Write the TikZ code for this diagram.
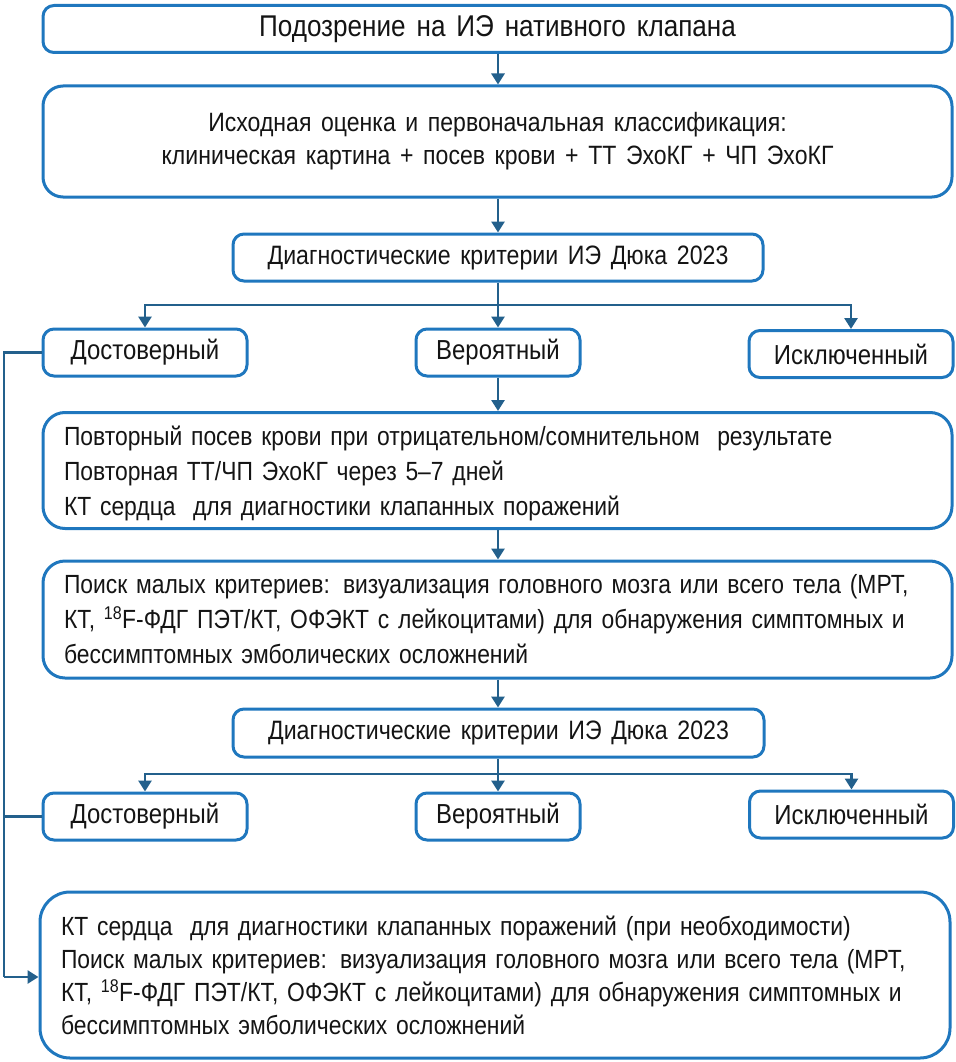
\documentclass[tikz,border=0pt]{standalone}
\usepackage{fontspec}
\setmainfont{Liberation Sans}[FakeStretch=0.87,WordSpace=1.5]
\usetikzlibrary{arrows.meta}
\definecolor{boxblue}{RGB}{31,119,190}
\definecolor{linkblue}{RGB}{35,96,140}
\definecolor{txt}{RGB}{20,20,20}
\begin{document}
\begin{tikzpicture}[x=1pt,y=-1pt,
  box/.style={draw=boxblue, line width=3pt, rounded corners=11pt, inner sep=0pt, text=txt, align=center, font=\fontsize{27.5}{33}\selectfont},
  bigbox/.style={box, rounded corners=22pt, align=left, inner xsep=21pt, font=\fontsize{26.3}{35}\selectfont},
  conn/.style={draw=linkblue, line width=2.8pt},
  arr/.style={conn, -{Triangle[length=11pt,width=13pt]}}]
\useasboundingbox (0,0) rectangle (955,1062);
\node[box, minimum width=909pt, minimum height=47pt, font=\fontsize{30}{33}\selectfont] (b1) at (497.5,29) {Подозрение на ИЭ нативного клапана};
\node[box, rounded corners=20pt, minimum width=909pt, minimum height=111pt, font=\fontsize{26.5}{33}\selectfont] (b2) at (497.5,141.5) {Исходная оценка и первоначальная классификация:\\клиническая картина + посев крови + ТТ ЭхоКГ + ЧП ЭхоКГ};
\node[box, minimum width=530pt, minimum height=47pt, font=\fontsize{26.6}{33}\selectfont] (b3) at (498,257.5) {Диагностические критерии ИЭ Дюка 2023};
\node[box, minimum width=204pt, minimum height=47pt] (d1) at (145,352.5) {Достоверный};
\node[box, minimum width=164pt, minimum height=47pt] (v1) at (498,352.5) {Вероятный};
\node[box, minimum width=204pt, minimum height=47pt] (i1) at (851,354) {Исключенный};
\node[bigbox, text width=867pt, minimum height=116pt] (b4) at (497.5,470.5) {\raisebox{0pt}[25pt]{}Повторный посев крови при отрицательном/сомнительном\ \ результате\\Повторная ТТ/ЧП ЭхоКГ через 5–7 дней\\КТ сердца\ \ для диагностики клапанных поражений};
\node[bigbox, text width=867pt, minimum height=117pt] (b5) at (497.5,619.5) {Поиск малых критериев: визуализация головного мозга или всего тела (МРТ,\\КТ, \textsuperscript{18}F-ФДГ ПЭТ/КТ, ОФЭКТ с лейкоцитами) для обнаружения симптомных и\\бессимптомных эмболических осложнений};
\node[box, minimum width=531pt, minimum height=48pt, font=\fontsize{26.6}{33}\selectfont] (b6) at (498.5,733) {Диагностические критерии ИЭ Дюка 2023};
\node[box, minimum width=204pt, minimum height=47pt] (d2) at (145,816.5) {Достоверный};
\node[box, minimum width=164pt, minimum height=47pt] (v2) at (498,816.5) {Вероятный};
\node[box, minimum width=204pt, minimum height=47pt] (i2) at (851.5,814.5) {Исключенный};
\node[bigbox, rounded corners=30pt, text width=868pt, minimum height=166pt, font=\fontsize{26.3}{33}\selectfont] (b7) at (495,975) {КТ сердца\ \ для диагностики клапанных поражений (при необходимости)\\Поиск малых критериев: визуализация головного мозга или всего тела (МРТ,\\КТ, \textsuperscript{18}F-ФДГ ПЭТ/КТ, ОФЭКТ с лейкоцитами) для обнаружения симптомных и\\бессимптомных эмболических осложнений};
\coordinate (j1) at (498,305);
\coordinate (j2) at (498,774);
\coordinate (l1) at (4,352.5);
\coordinate (l2) at (4,816.5);
\coordinate (l3) at (4,977);
\draw[arr] (b1.south -| j1) -- (b2.north -| j1);
\draw[arr] (b2.south -| j1) -- (b3.north -| j1);
\draw[arr] (b3.south -| j1) -- (v1.north);
\draw[arr] (j1) -| (d1.north);
\draw[arr] (j1) -| (i1.north);
\draw[arr] (v1.south) -- (b4.north -| v1);
\draw[arr] (b4.south -| j1) -- (b5.north -| j1);
\draw[arr] (b5.south -| j1) -- (b6.north -| j1);
\draw[arr] (b6.south -| j2) -- (v2.north);
\draw[arr] (j2) -| (d2.north);
\draw[arr] (j2) -| (i2.north);
\draw[conn] (d1.west) -- (l1) -- (l3);
\draw[conn] (d2.west) -- (l2);
\draw[arr] (l3) -- (b7.west |- l3);
\end{tikzpicture}
\end{document}
